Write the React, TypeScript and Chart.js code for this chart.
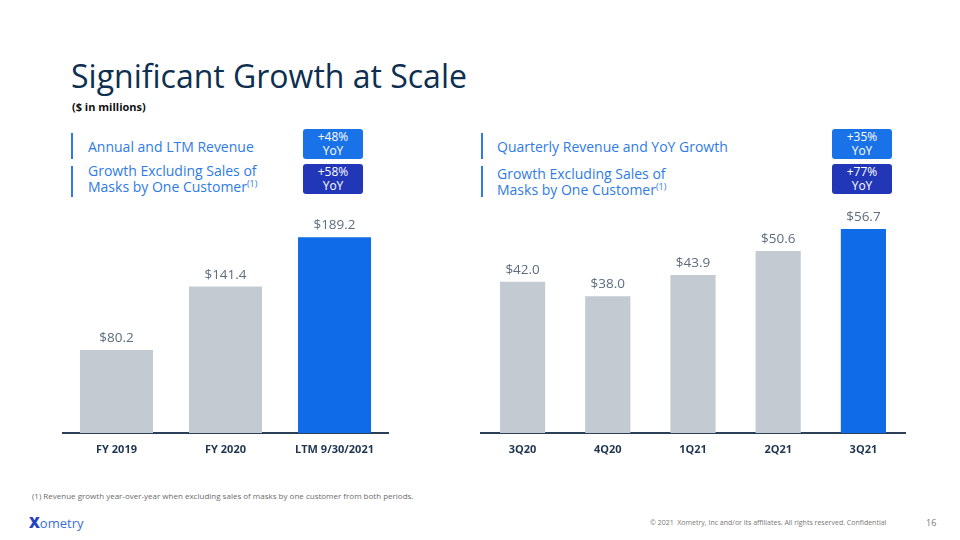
import React, { useEffect, useRef } from "react";
import { Chart, registerables } from "chart.js";

Chart.register(...registerables);

const annualCategories = ["FY 2019", "FY 2020", "LTM 9/30/2021"];
const annualValues = [80.2, 141.4, 189.2];
const quarterCategories = ["3Q20", "4Q20", "1Q21", "2Q21", "3Q21"];
const quarterValues = [42.0, 38.0, 43.9, 50.6, 56.7];

const GRAY = "#c3cad2";
const BLUE = "#106be8";
const FONT = "'Open Sans', 'Noto Sans', sans-serif";

const labelPlugin = {
  id: "valueLabels",
  afterDatasetsDraw(chart: any) {
    const ctx = chart.ctx;
    const meta = chart.getDatasetMeta(0);
    const data = chart.data.datasets[0].data as number[];
    ctx.save();
    ctx.font = `13.5px ${FONT}`;
    ctx.fillStyle = "#5d6d7e";
    ctx.textAlign = "center";
    ctx.textBaseline = "alphabetic";
    meta.data.forEach((el: any, i: number) => {
      ctx.fillText("$" + data[i].toFixed(1), el.x, el.y - 8);
    });
    ctx.restore();
  },
};

function BarChart(props: {
  labels: string[];
  values: number[];
  max: number;
  barPct: number;
  style: React.CSSProperties;
}) {
  const ref = useRef<HTMLCanvasElement>(null);
  useEffect(() => {
    if (!ref.current) return;
    const n = props.values.length;
    const chart = new Chart(ref.current, {
      type: "bar",
      data: {
        labels: props.labels,
        datasets: [
          {
            data: props.values,
            backgroundColor: props.values.map((_, i) => (i === n - 1 ? BLUE : GRAY)),
            barPercentage: props.barPct,
            categoryPercentage: 1,
            borderWidth: 0,
          },
        ],
      },
      options: {
        animation: false,
        responsive: false,
        maintainAspectRatio: false,
        layout: { padding: 0 },
        plugins: { legend: { display: false }, tooltip: { enabled: false } },
        scales: {
          x: {
            grid: { display: false, drawTicks: false },
            border: { display: true, color: "#2b3f56", width: 2 },
            ticks: {
              color: "#1f3550",
              font: { family: FONT, size: 11, weight: "bold" },
              padding: 10,
            },
            afterFit: (scale: any) => {
              scale.height = 30;
            },
          },
          y: { display: false, min: 0, max: props.max },
        },
      },
      plugins: [labelPlugin],
    } as any);
    return () => chart.destroy();
  }, []);
  return (
    <canvas
      ref={ref}
      width={props.style.width as number}
      height={props.style.height as number}
      style={{ position: "absolute", ...props.style }}
    />
  );
}

function Badge(props: { left: number; top: number; color: string; text: string }) {
  return (
    <div
      style={{
        position: "absolute",
        left: props.left,
        top: props.top,
        width: 60,
        height: 30,
        background: props.color,
        borderRadius: 3,
        color: "#fff",
        fontSize: 12,
        lineHeight: "14px",
        textAlign: "center",
        paddingTop: 1,
        boxSizing: "border-box",
      }}
    >
      {props.text}
      <br />
      YoY
    </div>
  );
}

function LegendBar(props: { left: number; top: number; height: number }) {
  return (
    <div
      style={{
        position: "absolute",
        left: props.left,
        top: props.top,
        width: 2,
        height: props.height,
        background: "#2f7be6",
      }}
    />
  );
}

export default function App() {
  const legendText: React.CSSProperties = {
    position: "absolute",
    color: "#2f7be6",
    fontSize: 14,
    lineHeight: "16px",
    whiteSpace: "nowrap",
  };
  const sup: React.CSSProperties = { fontSize: 9, verticalAlign: "5px", lineHeight: 0 };
  return (
    <div
      style={{
        position: "fixed",
        left: 0,
        top: 0,
        width: 960,
        height: 540,
        background: "#fff",
        fontFamily: FONT,
        overflow: "hidden",
      }}
    >
      <div
        style={{
          position: "absolute",
          left: 71,
          top: 54,
          fontSize: 32,
          color: "#0e2f4f",
          whiteSpace: "nowrap",
          lineHeight: "44px",
        }}
      >
        Significant Growth at Scale
      </div>
      <div
        style={{
          position: "absolute",
          left: 72,
          top: 99,
          fontSize: 11,
          fontWeight: "bold",
          color: "#111",
        }}
      >
        ($ in millions)
      </div>

      <LegendBar left={71} top={133} height={26} />
      <div style={{ ...legendText, left: 88, top: 139 }}>Annual and LTM Revenue</div>
      <LegendBar left={71} top={166} height={31} />
      <div style={{ ...legendText, left: 88, top: 163 }}>
        Growth Excluding Sales of
        <br />
        Masks by One Customer<sup style={sup}>(1)</sup>
      </div>
      <Badge left={303} top={129} color="#1a72e8" text="+48%" />
      <Badge left={303} top={164} color="#2237b8" text="+58%" />

      <LegendBar left={481} top={133} height={26} />
      <div style={{ ...legendText, left: 497, top: 139 }}>Quarterly Revenue and YoY Growth</div>
      <LegendBar left={481} top={166} height={31} />
      <div style={{ ...legendText, left: 497, top: 166 }}>
        Growth Excluding Sales of
        <br />
        Masks by One Customer<sup style={sup}>(1)</sup>
      </div>
      <Badge left={832} top={129} color="#1a72e8" text="+35%" />
      <Badge left={832} top={164} color="#2237b8" text="+77%" />

      <BarChart
        labels={annualCategories}
        values={annualValues}
        max={244.4}
        barPct={0.67}
        style={{ left: 62, top: 180, width: 327, height: 283 }}
      />
      <BarChart
        labels={quarterCategories}
        values={quarterValues}
        max={70.3}
        barPct={0.53}
        style={{ left: 480, top: 180, width: 426, height: 283 }}
      />

      <div
        style={{
          position: "absolute",
          left: 32,
          top: 490,
          fontSize: 8,
          color: "#6b6b6b",
          whiteSpace: "nowrap",
        }}
      >
        (1) Revenue growth year-over-year when excluding sales of masks by one customer from both periods.
      </div>
      <div
        style={{
          position: "absolute",
          left: 29,
          top: 512,
          fontSize: 13,
          color: "#3a6ee0",
          whiteSpace: "nowrap",
        }}
      >
        <span style={{ fontWeight: 900, color: "#2340c0", fontSize: 15 }}>X</span>ometry
      </div>
      <div
        style={{
          position: "absolute",
          left: 650,
          top: 518,
          fontSize: 7,
          color: "#777",
          whiteSpace: "nowrap",
        }}
      >
        © 2021&nbsp; Xometry, Inc and/or its affiliates. All rights reserved. Confidential
      </div>
      <div
        style={{
          position: "absolute",
          left: 926,
          top: 516,
          fontSize: 9,
          color: "#777",
        }}
      >
        16
      </div>
    </div>
  );
}
